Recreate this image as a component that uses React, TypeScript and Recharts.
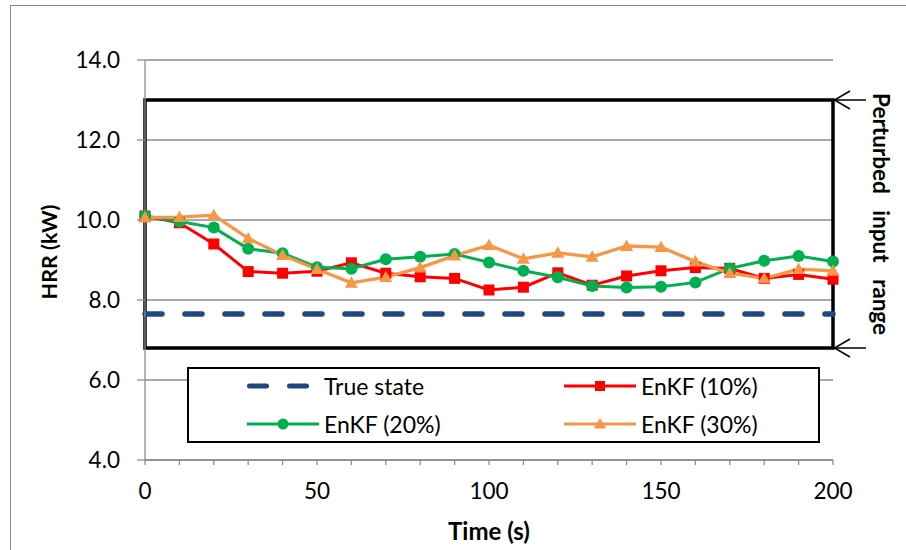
import React from 'react';
import { LineChart, Line, XAxis, YAxis, CartesianGrid, ReferenceArea, Legend, Label } from 'recharts';

const FONT = "Lato, 'Open Sans', sans-serif";

const times = [0, 10, 20, 30, 40, 50, 60, 70, 80, 90, 100, 110, 120, 130, 140, 150, 160, 170, 180, 190, 200];
const trueState = [7.65, 7.65, 7.65, 7.65, 7.65, 7.65, 7.65, 7.65, 7.65, 7.65, 7.65, 7.65, 7.65, 7.65, 7.65, 7.65, 7.65, 7.65, 7.65, 7.65, 7.65];
const enkf10 = [10.1, 9.93, 9.4, 8.71, 8.67, 8.72, 8.93, 8.67, 8.58, 8.54, 8.25, 8.32, 8.68, 8.37, 8.6, 8.73, 8.81, 8.79, 8.54, 8.64, 8.52];
const enkf20 = [10.1, 9.96, 9.81, 9.28, 9.17, 8.82, 8.78, 9.02, 9.08, 9.15, 8.94, 8.73, 8.57, 8.35, 8.31, 8.33, 8.44, 8.79, 8.98, 9.1, 8.96];
const enkf30 = [10.06, 10.07, 10.12, 9.54, 9.12, 8.77, 8.43, 8.57, 8.81, 9.11, 9.37, 9.03, 9.18, 9.08, 9.35, 9.32, 8.96, 8.67, 8.54, 8.77, 8.73];

const yTicks = [4, 6, 8, 10, 12, 14];
const xTicks = times;
const xLabelTicks = [0, 50, 100, 150, 200];
const rangeLow = 6.8;
const rangeHigh = 13;

const seriesNames = {
  trueState: 'True state',
  enkf10: 'EnKF (10%)',
  enkf20: 'EnKF (20%)',
  enkf30: 'EnKF (30%)',
};

const COLORS = {
  trueState: '#1F497D',
  enkf10: '#FF0000',
  enkf20: '#00B050',
  enkf30: '#F79646',
};

const data = times.map((t, i) => ({
  t,
  trueState: trueState[i],
  enkf10: enkf10[i],
  enkf20: enkf20[i],
  enkf30: enkf30[i],
}));

const SquareDot = (p: any) => {
  if (p.cx == null || p.cy == null) return null;
  return <rect key={`sq-${p.index}`} x={p.cx - 5.5} y={p.cy - 5.5} width={11} height={11} fill={COLORS.enkf10} />;
};
const CircleDot = (p: any) => {
  if (p.cx == null || p.cy == null) return null;
  return <circle key={`ci-${p.index}`} cx={p.cx} cy={p.cy} r={6} fill={COLORS.enkf20} />;
};
const TriDot = (p: any) => {
  if (p.cx == null || p.cy == null) return null;
  const s = 6.5;
  return (
    <polygon
      key={`tr-${p.index}`}
      points={`${p.cx},${p.cy - s} ${p.cx + s},${p.cy + s * 0.75} ${p.cx - s},${p.cy + s * 0.75}`}
      fill={COLORS.enkf30}
    />
  );
};

const RangeShape = (p: any) => {
  const { x, y, width, height } = p;
  if (x == null) return null;
  const r = x + width;
  const b = y + height;
  return (
    <g>
      <rect x={x} y={y} width={width} height={height} fill="none" stroke="#000" strokeWidth={3.5} />
      {[y, b].map((yy) => (
        <g key={yy}>
          <line x1={r} y1={yy} x2={r + 33} y2={yy} stroke="#000" strokeWidth={1.3} />
          <polyline
            points={`${r + 17},${yy - 9} ${r + 1.5},${yy} ${r + 17},${yy + 9}`}
            fill="none"
            stroke="#000"
            strokeWidth={1.5}
          />
        </g>
      ))}
      <text
        transform={`translate(${r + 48},${y + height / 2 - 10}) rotate(90)`}
        textAnchor="middle"
        dominantBaseline="central"
        fontWeight="bold"
        fontSize={22.5}
        fontFamily={FONT}
        fill="#000"
        style={{ wordSpacing: 11 }}
      >
        Perturbed input range
      </text>
    </g>
  );
};

const XTick = (p: any) => {
  const { x, y, payload } = p;
  if (!xLabelTicks.includes(payload.value)) return null;
  return (
    <text x={x} y={y} dy={32} textAnchor="middle" fontSize={22.5} fontFamily={FONT} fill="#000">
      {payload.value}
    </text>
  );
};

const LegendIcon = ({ k }: { k: string }) => {
  const w = 72;
  const h = 20;
  const c = COLORS[k as keyof typeof COLORS];
  const mid = w / 2;
  return (
    <svg width={w} height={h} style={{ display: 'block' }}>
      {k === 'trueState' ? (
        <line x1={2.5} y1={h / 2} x2={62} y2={h / 2} stroke={c} strokeWidth={5} strokeDasharray="17 23" strokeLinecap="round" />
      ) : (
        <line x1={0} y1={h / 2} x2={w} y2={h / 2} stroke={c} strokeWidth={3} />
      )}
      {k === 'enkf10' && <rect x={mid - 5} y={h / 2 - 5} width={10} height={10} fill={c} />}
      {k === 'enkf20' && <circle cx={mid} cy={h / 2} r={5.5} fill={c} />}
      {k === 'enkf30' && (
        <polygon points={`${mid},${h / 2 - 6} ${mid + 6},${h / 2 + 4.5} ${mid - 6},${h / 2 + 4.5}`} fill={c} />
      )}
    </svg>
  );
};

const renderLegend = (props: any) => {
  const payload = props.payload || [];
  const pos: Record<string, { left: number; top: number }> = {
    trueState: { left: 58, top: 17 },
    enkf10: { left: 375, top: 17 },
    enkf20: { left: 58, top: 55 },
    enkf30: { left: 375, top: 55 },
  };
  return (
    <div
      style={{
        position: 'relative',
        width: 633,
        height: 76,
        boxSizing: 'border-box',
        border: '2px solid #000',
        background: '#fff',
        fontFamily: FONT,
      }}
    >
      {payload.map((e: any) => {
        const k = String(e.dataKey);
        const ps = pos[k];
        if (!ps) return null;
        return (
          <div
            key={k}
            style={{
              position: 'absolute',
              left: ps.left,
              top: ps.top - 15,
              height: 30,
              display: 'flex',
              alignItems: 'center',
              whiteSpace: 'nowrap',
            }}
          >
            <LegendIcon k={k} />
            <span style={{ marginLeft: 5, fontSize: 23, color: '#000', lineHeight: '30px' }}>{e.value}</span>
          </div>
        );
      })}
    </div>
  );
};

export default function App() {
  return (
    <div style={{ position: 'absolute', left: 0, top: 0, width: 906, height: 550, overflow: 'hidden', background: '#fff' }}>
      <div
        style={{
          position: 'absolute',
          left: 10,
          top: 5,
          width: 2000,
          height: 2000,
          borderLeft: '1.5px solid #8c8c8c',
          borderTop: '1.5px solid #8c8c8c',
        }}
      />
      <div style={{ position: 'absolute', left: 0, top: 0 }}>
        <LineChart width={906} height={550} data={data} margin={{ top: 60, right: 73, bottom: 0, left: 0 }}>
          <CartesianGrid vertical={false} stroke="#8c8c8c" strokeWidth={1.3} />
          <XAxis
            dataKey="t"
            type="number"
            domain={[0, 200]}
            ticks={xTicks}
            interval={0}
            tick={<XTick />}
            tickSize={5}
            axisLine={{ stroke: '#8c8c8c', strokeWidth: 1.3 }}
            tickLine={{ stroke: '#8c8c8c', strokeWidth: 1.3 }}
            height={90}
          >
            <Label
              content={(lp: any) => {
                const vb = lp.viewBox || {};
                return (
                  <text
                    x={vb.x + vb.width / 2}
                    y={530}
                    textAnchor="middle"
                    dominantBaseline="central"
                    fontWeight="bold"
                    fontSize={24}
                    fontFamily={FONT}
                    fill="#000"
                  >
                    Time (s)
                  </text>
                );
              }}
            />
          </XAxis>
          <YAxis
            type="number"
            domain={[4, 14]}
            ticks={yTicks}
            interval={0}
            width={145}
            tickSize={8}
            tickMargin={17}
            tickFormatter={(v: number) => v.toFixed(1)}
            tick={{ fill: '#000', fontSize: 22.5, fontFamily: FONT }}
            axisLine={{ stroke: '#8c8c8c', strokeWidth: 1.3 }}
            tickLine={{ stroke: '#8c8c8c', strokeWidth: 1.3 }}
          >
            <Label
              content={(lp: any) => {
                const vb = lp.viewBox || {};
                const cy = vb.y + vb.height / 2 - 8;
                return (
                  <text
                    transform={`translate(49,${cy}) rotate(-90)`}
                    textAnchor="middle"
                    dominantBaseline="central"
                    fontWeight="bold"
                    fontSize={21.5}
                    fontFamily={FONT}
                    fill="#000"
                  >
                    HRR (kW)
                  </text>
                );
              }}
            />
          </YAxis>
          <ReferenceArea x1={0} x2={200} y1={rangeLow} y2={rangeHigh} ifOverflow="visible" shape={RangeShape} />
          <Legend
            layout="horizontal"
            verticalAlign="middle"
            align="center"
            content={renderLegend}
            wrapperStyle={{ position: 'absolute', left: 187, top: 367, width: 633, height: 76 }}
          />
          <Line
            dataKey="trueState"
            name={seriesNames.trueState}
            stroke={COLORS.trueState}
            strokeWidth={5.5}
            strokeDasharray="17 23"
            strokeLinecap="round"
            dot={false}
            activeDot={false}
            isAnimationActive={false}
          />
          <Line
            dataKey="enkf10"
            name={seriesNames.enkf10}
            stroke={COLORS.enkf10}
            strokeWidth={3}
            dot={SquareDot}
            activeDot={false}
            isAnimationActive={false}
          />
          <Line
            dataKey="enkf20"
            name={seriesNames.enkf20}
            stroke={COLORS.enkf20}
            strokeWidth={3}
            dot={CircleDot}
            activeDot={false}
            isAnimationActive={false}
          />
          <Line
            dataKey="enkf30"
            name={seriesNames.enkf30}
            stroke={COLORS.enkf30}
            strokeWidth={3.3}
            dot={TriDot}
            activeDot={false}
            isAnimationActive={false}
          />
        </LineChart>
      </div>
    </div>
  );
}
